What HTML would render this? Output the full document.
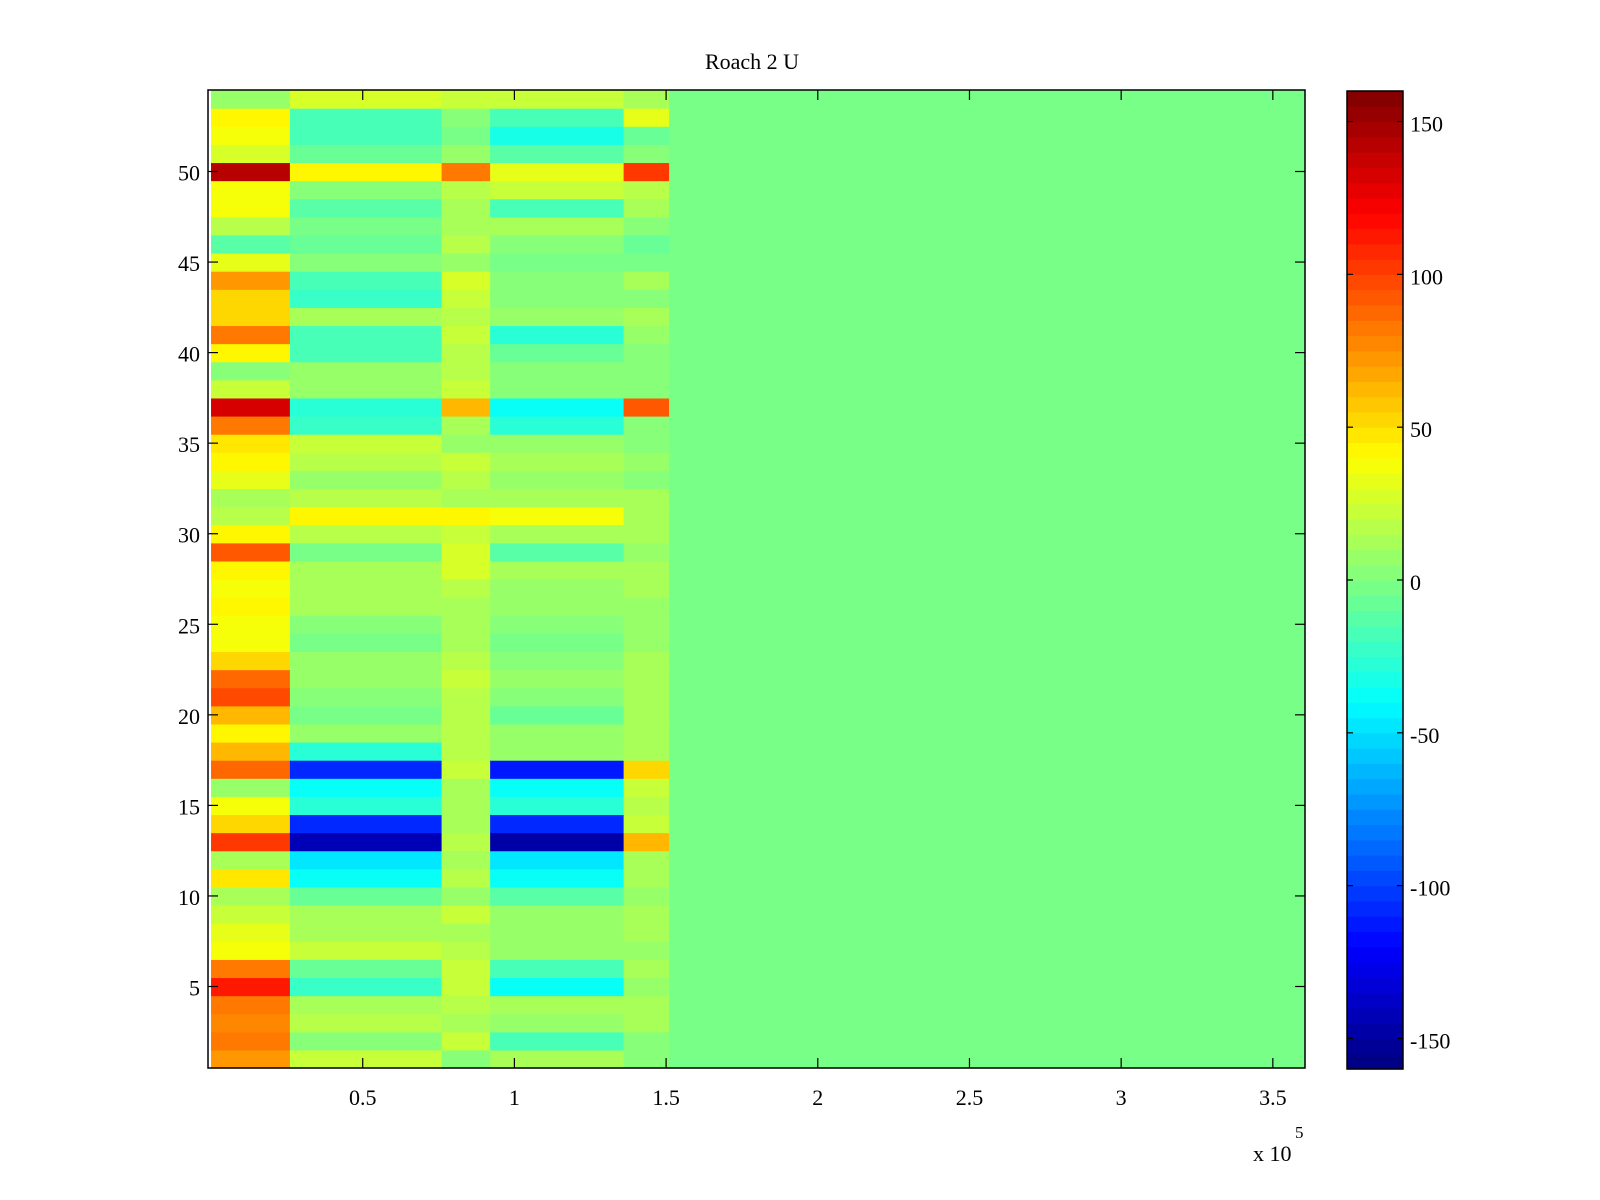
<!DOCTYPE html>
<html><head><meta charset="utf-8"><style>
body{margin:0;background:#fff;}
svg{display:block;font-family:"Liberation Serif",serif;}
</style></head><body>
<svg id="chart" width="1600" height="1200" xmlns="http://www.w3.org/2000/svg">
<rect width="1600" height="1200" fill="#fff"/>
<text x="752" y="69" font-size="22" text-anchor="middle">Roach 2 U</text>
<g id="cells"></g>
<g id="axes"></g>
<g id="cbar"></g>
</svg>
<script>
// x segment edges (units of 1e5)
const segEdges = [0, 0.26, 0.76, 0.92, 1.36, 1.51, 3.61];
// row means per segment A..F, rows 1..54 (index 0 = row 1)
const segA = [70,80,75,80,110,80,35,30,20,10,45,10,100,50,35,5,85,60,40,60,95,85,50,35,35,40,35,40,90,40,15,10,30,40,45,80,130,20,0,40,80,50,50,70,30,-15,15,35,35,140,25,35,40,5];
const segB = [20,0,15,10,-25,-10,20,10,10,-10,-40,-50,-145,-110,-30,-40,-110,-30,5,-5,0,5,5,-5,0,10,10,10,-5,15,40,15,5,15,20,-25,-30,5,5,-20,-20,10,-25,-20,0,-10,-5,-15,0,40,-10,-20,-20,25];
const segC = [0,20,10,15,20,20,15,10,20,5,15,10,15,10,10,10,20,15,15,15,15,20,15,10,10,10,15,25,25,20,40,10,15,20,5,10,60,20,15,15,20,15,20,25,5,15,10,10,15,80,5,-5,0,20];
const segD = [10,-20,5,10,-40,-20,5,5,5,-15,-40,-50,-150,-110,-30,-40,-115,5,5,-10,0,5,0,-5,0,5,5,10,-15,10,35,10,5,10,5,-30,-40,0,0,-10,-30,5,0,0,-5,0,10,-20,20,30,-15,-35,-20,20];
const segE = [0,0,10,10,5,10,5,10,10,5,10,10,60,20,15,20,50,10,10,10,10,10,10,5,5,5,10,10,5,10,10,10,0,5,0,0,90,0,0,0,5,10,0,10,-5,-10,0,10,15,100,0,-10,30,10];
const segF = [-2,-2,-2,-2,-2,-2,-2,-2,-2,-2,-2,-2,-2,-2,-2,-2,-2,-2,-2,-2,-2,-2,-2,-2,-2,-2,-2,-2,-2,-2,-2,-2,-2,-2,-2,-2,-2,-2,-2,-2,-2,-2,-2,-2,-2,-2,-2,-2,-2,-2,-2,-2,-2,-2];
const segs = [segA, segB, segC, segD, segE, segF];
const yTicks = [5,10,15,20,25,30,35,40,45,50];
const xTicks = [0.5,1,1.5,2,2.5,3,3.5];
const xTickLabels = ["0.5","1","1.5","2","2.5","3","3.5"];
const cTicks = [-150,-100,-50,0,50,100,150];

const NS = "http://www.w3.org/2000/svg";
const PL = 208, PR = 1305, PT = 90, PB = 1068;
const X0 = -0.01, X1 = 3.606, Y0 = 0.5, Y1 = 54.5;
const CMIN = -160, CMAX = 160;
function xs(v){ return PL + (v - X0) / (X1 - X0) * (PR - PL); }
function ys(v){ return PB - (v - Y0) / (Y1 - Y0) * (PB - PT); }
function jet(t){
  const idx = Math.max(0, Math.min(63, Math.floor(t * 64)));
  const u = (idx + 0.5) / 64;
  const f = c => Math.round(255 * Math.max(0, Math.min(1, 1.5 - Math.abs(4 * u - c))));
  return `rgb(${f(3)},${f(2)},${f(1)})`;
}
function cs(v){ return jet((v - CMIN) / (CMAX - CMIN)); }
function mk(tag, attrs, parent){
  const e = document.createElementNS(NS, tag);
  for (const k in attrs) e.setAttribute(k, attrs[k]);
  parent.appendChild(e); return e;
}
const cells = document.getElementById('cells');
for (let s = 0; s < segs.length; s++) {
  for (let r = 0; r < 54; r++) {
    const xa = Math.max(PL, xs(segEdges[s])), xb = Math.min(PR, xs(segEdges[s+1]));
    const ya = ys(r + 1.5), yb = ys(r + 0.5);
    const c = mk('rect', {x: xa, y: ya, width: xb - xa + 0.6, height: yb - ya + 0.6, fill: cs(segs[s][r])}, cells);
    
    
  }
}
const axes = document.getElementById('axes');
const frame = mk('rect', {x: PL, y: PT, width: PR - PL, height: PB - PT, fill: 'none', stroke: '#000', 'stroke-width': 1.5}, axes);


yTicks.forEach(v => {
  const y = ys(v);
  mk('line', {x1: PL, x2: PL + 10, y1: y, y2: y, stroke: '#000', 'stroke-width': 1.2}, axes);
  mk('line', {x1: PR, x2: PR - 10, y1: y, y2: y, stroke: '#000', 'stroke-width': 1.2}, axes);
  const t = mk('text', {x: 200, y: y + 9, 'font-size': 22, 'text-anchor': 'end'}, axes);
  t.textContent = v;
  
  
});
xTicks.forEach((v, i) => {
  const x = xs(v);
  mk('line', {x1: x, x2: x, y1: PB, y2: PB - 10, stroke: '#000', 'stroke-width': 1.2}, axes);
  mk('line', {x1: x, x2: x, y1: PT, y2: PT + 10, stroke: '#000', 'stroke-width': 1.2}, axes);
  const t = mk('text', {x: x, y: 1105, 'font-size': 22, 'text-anchor': 'middle'}, axes);
  t.textContent = xTickLabels[i];
  
  
});
const ex = mk('text', {x: 1253, y: 1161, 'font-size': 22}, axes);
ex.textContent = 'x 10';


const ex5 = mk('text', {x: 1295, y: 1138, 'font-size': 17}, axes);
ex5.textContent = '5';



const cb = document.getElementById('cbar');
const CL = 1347, CR = 1403, CT = 91, CB = 1069;
function cy(v){ return CB - (v - CMIN) / (CMAX - CMIN) * (CB - CT); }
for (let i = 0; i < 64; i++) {
  const ya = CT + (CB - CT) * (63 - i) / 64;
  const r = mk('rect', {x: CL, y: ya, width: CR - CL, height: (CB - CT) / 64 + 0.6, fill: jet((i + 0.5) / 64)}, cb);
  
  
}
mk('rect', {x: CL, y: CT, width: CR - CL, height: CB - CT, fill: 'none', stroke: '#000', 'stroke-width': 1.5}, cb);
cTicks.forEach(v => {
  const y = cy(v);
  mk('line', {x1: CL, x2: CL + 6, y1: y, y2: y, stroke: '#000', 'stroke-width': 1.2}, cb);
  mk('line', {x1: CR, x2: CR - 6, y1: y, y2: y, stroke: '#000', 'stroke-width': 1.2}, cb);
  const t = mk('text', {x: 1410, y: y + 10, 'font-size': 22}, cb);
  t.textContent = v;
  
  
});
</script>
</body></html>
